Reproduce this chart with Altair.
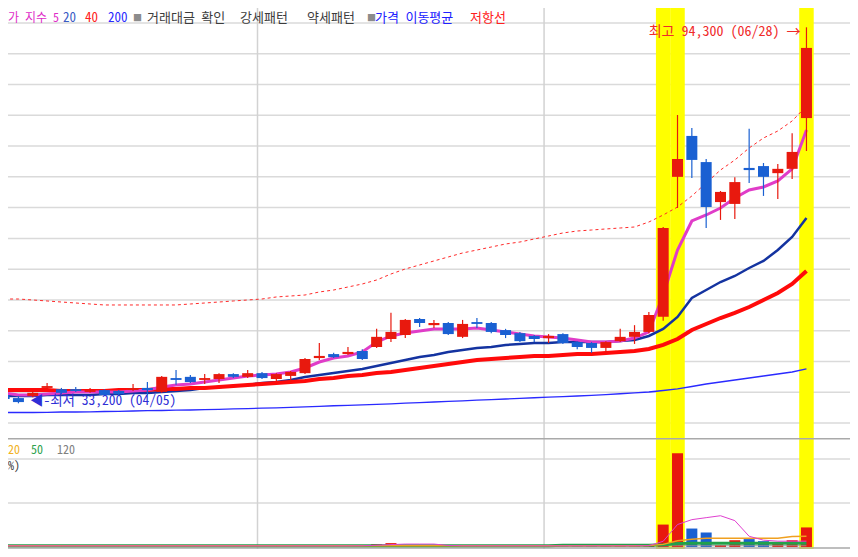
import altair as alt
import pandas as pd

# ---------------- data (index 0 = 04/04 ... 56 = 06/28) ----------------
opens = [34550, 34050, 34400, 35700, 35500, 35500, 35050, 35350, 35200, 35350,
         35700, 35050, 37300, 37500, 37000, 37150, 37950, 37500, 38100, 37150,
         37650, 38100, 40550, 41200, 41200, 41700, 42350, 43650, 44300, 46900,
         45900, 46250, 44000, 46400, 46250, 45100, 44600, 44150, 43800, 44450,
         43150, 43000, 42200, 43300, 44000, 44800, 47250, 70000, 76650, 72400,
         65900, 65600, 71450, 71750, 70600, 71300, 79550]
highs = [34900, 34400, 35200, 36500, 35700, 35850, 35700, 35500, 35350, 36350,
         36650, 37650, 38600, 37800, 37950, 38100, 38100, 38600, 38300, 38100,
         38450, 40550, 43000, 41400, 42350, 42000, 45300, 47900, 46900, 47050,
         46750, 46400, 46750, 47050, 46400, 45300, 44800, 44300, 44450, 44600,
         43300, 43150, 43300, 45300, 45900, 48050, 61850, 80050, 77950, 72900,
         67700, 69950, 77800, 72250, 72100, 77100, 94300]
lows = [33600, 33200, 34200, 35350, 34700, 35050, 34900, 34400, 34400, 35200,
        34550, 34900, 36200, 36500, 36350, 36500, 37300, 37300, 37150, 36800,
        36650, 37950, 40250, 40550, 41050, 40250, 42200, 43150, 43800, 45600,
        45450, 44300, 43800, 45450, 44600, 43800, 43150, 43150, 43000, 42850,
        42000, 41400, 41400, 43150, 42850, 44600, 46600, 64950, 69800, 61700,
        63000, 63150, 69000, 66900, 66400, 69650, 74200]
closes = [33900, 33400, 34900, 36000, 34900, 35200, 35350, 34550, 34700, 35700,
          35350, 37500, 37000, 36650, 37300, 37950, 37500, 38100, 37300, 37950,
          38300, 40400, 40900, 40700, 41550, 40400, 44000, 44800, 46750, 46250,
          46250, 44450, 46100, 46100, 44800, 44300, 43300, 43650, 44150, 43000,
          42350, 42200, 43150, 44000, 44800, 47550, 61700, 72900, 72750, 65100,
          67550, 69150, 71100, 70000, 71300, 74050, 90950]
ma5 = [34880, 34550, 34550, 34710, 34880, 35040, 35040, 35040, 35040, 35200,
       35360, 35850, 36180, 36340, 36660, 36990, 37310, 37640, 37800, 37960,
       38290, 38940, 39910, 40560, 40890, 41540, 43160, 44140, 44630, 44950,
       45280, 45280, 45280, 45440, 45110, 44790, 44460, 44140, 43980, 43810,
       43490, 43160, 43160, 43330, 43810, 44790, 50800, 58110, 62830, 63800,
       64940, 66560, 67860, 68350, 69330, 71280, 77610]
ma20 = [34390, 34390, 34390, 34550, 34550, 34550, 34550, 34710, 34710, 34880,
        34880, 35040, 35200, 35360, 35690, 35850, 36010, 36180, 36500, 36660,
        36990, 37480, 37800, 38130, 38450, 38780, 39260, 39750, 40240, 40730,
        41050, 41540, 41860, 42190, 42350, 42680, 42840, 43000, 43000, 43160,
        43160, 43160, 43160, 43330, 43490, 44140, 45280, 47230, 50310, 51610,
        52910, 53890, 55190, 56330, 58110, 60230, 63310]
ma40 = [35360, 35360, 35360, 35360, 35200, 35200, 35200, 35200, 35360, 35360,
        35360, 35530, 35530, 35690, 35690, 35850, 36010, 36180, 36340, 36500,
        36660, 36830, 37150, 37310, 37640, 37800, 38130, 38290, 38610, 38940,
        39260, 39590, 39910, 40240, 40400, 40560, 40730, 40890, 40890, 41050,
        41210, 41210, 41380, 41540, 41700, 42030, 42680, 43650, 45110, 46090,
        47060, 47880, 48850, 49990, 51130, 52590, 54700]
ma200 = [31710, 31710, 31710, 31740, 31790, 31790, 31820, 31870, 31900, 31950,
         32000, 32030, 32080, 32110, 32180, 32230, 32280, 32340, 32410, 32470,
         32550, 32630, 32710, 32800, 32880, 32960, 33040, 33120, 33220, 33320,
         33410, 33510, 33610, 33710, 33800, 33900, 34000, 34100, 34190, 34290,
         34390, 34500, 34620, 34750, 34880, 35040, 35280, 35530, 35930, 36340,
         36660, 36990, 37310, 37640, 37960, 38290, 38780]
resistance = [50150, 50150, 49990, 49830, 49660, 49500, 49340, 49180, 49180, 49180,
              49180, 49180, 49180, 49340, 49500, 49660, 49830, 49990, 50150, 50480,
              50640, 50800, 51290, 51610, 52100, 52590, 53240, 54210, 55030, 55680,
              56330, 56980, 57630, 58110, 58600, 59090, 59410, 59900, 60390, 60880,
              61200, 61360, 61530, 61690, 61850, 62660, 63800, 65100, 66890, 69000,
              71110, 72740, 74690, 76310, 77450, 79080, 81510]
trade_value = [25, 30, 20, 30, 25, 20, 20, 25, 20, 25,
               30, 45, 30, 25, 20, 25, 20, 25, 20, 20,
               25, 40, 35, 25, 20, 30, 67, 89, 40, 30,
               25, 35, 25, 30, 25, 20, 25, 20, 25, 20,
               20, 25, 20, 25, 30, 45, 510, 2130, 420, 330,
               45, 155, 180, 133, 90, 155, 445]
tv_ma5 = [25, 25, 25, 25, 25, 25, 25, 25, 25, 25,
          25, 25, 25, 25, 25, 25, 25, 25, 25, 25,
          25, 25, 25, 25, 25, 28, 40, 55, 67, 67,
          67, 35, 27, 27, 27, 27, 27, 27, 27, 27,
          27, 27, 27, 27, 27, 30, 130, 511, 622, 667,
          711, 600, 244, 156, 133, 133, 133]
tv_ma20 = [30] * 45 + [32, 60, 140, 175, 200, 200, 200, 200, 200, 200, 240, 245]
tv_ma50 = [30] * 39 + [40, 40, 40, 40, 40, 40, 40, 50, 80, 85, 85, 85, 85, 85, 85, 85, 85, 85]
tv_ma120 = [28] * 57
highlight_idx = [46, 47, 56]
month_start_idx = [18, 38]
price_grid = [30000, 35000, 40000, 45000, 50000, 55000, 60000,
              65000, 70000, 75000, 80000, 85000, 90000, 95000]
value_grid = [1000, 2000]

n = len(opens)
df = pd.DataFrame({
    "i": list(range(n)), "open": opens, "high": highs, "low": lows, "close": closes,
    "ma5": ma5, "ma20": ma20, "ma40": ma40, "ma200": ma200, "res": resistance,
    "tv": trade_value, "v5": tv_ma5, "v20": tv_ma20, "v50": tv_ma50, "v120": tv_ma120,
})
df["dir"] = ["up" if c >= o else "down" for o, c in zip(opens, closes)]

RED = "#e8190e"
BLUE = "#1a60d2"
FONT = "Noto Sans Mono CJK KR, DejaVu Sans Mono, Noto Sans CJK KR"
W, TOP_H, BOT_H = 842, 430, 111

xs = alt.Scale(domain=[0.6207, 58.6897], nice=False, zero=False)
ys = alt.Scale(domain=[27562.5, 97437.5], nice=False, zero=False)
vs = alt.Scale(domain=[-45, 2477], nice=False, zero=False)
X = alt.X("i:Q", scale=xs, axis=None)
col = alt.Color("dir:N", scale=alt.Scale(domain=["up", "down"], range=[RED, BLUE]), legend=None)

grid_df = pd.DataFrame({"p": price_grid})
vgrid_df = pd.DataFrame({"v": value_grid})
month_df = pd.DataFrame({"i": month_start_idx})
hl_df = pd.DataFrame({"i": highlight_idx})


def pline(field, color, width, dash=None, scale=ys):
    kw = dict(color=color, strokeWidth=width, clip=True)
    if dash:
        kw["strokeDash"] = dash
    return alt.Chart(df).mark_line(**kw).encode(
        x=X, y=alt.Y(f"{field}:Q", scale=scale, axis=None))


# ---------------- top panel ----------------
grid = alt.Chart(grid_df).mark_rule(color="#dadada", strokeWidth=1.5, clip=True).encode(
    y=alt.Y("p:Q", scale=ys, axis=None))
months = alt.Chart(month_df).mark_rule(color="#d2d2d2", strokeWidth=1.5, xOffset=-4.5,
                                       clip=True).encode(x=X)
hl = alt.Chart(hl_df).mark_rule(color="#ffff00", strokeWidth=14.5, clip=True).encode(x=X)

wick = alt.Chart(df).mark_rule(strokeWidth=1.2, clip=True).encode(
    x=X, y=alt.Y("low:Q", scale=ys, axis=None), y2="high:Q", color=col)
body = alt.Chart(df).mark_bar(size=11, clip=True).encode(
    x=X, y=alt.Y("open:Q", scale=ys, axis=None), y2="close:Q", color=col)

hi_df = pd.DataFrame({"i": [56], "p": [94300], "t": ["최고 94,300 (06/28) →"]})
lo_df = pd.DataFrame({"i": [1], "p": [33200], "t": ["◀-최저 33,200 (04/05)"]})
hi_txt = alt.Chart(hi_df).mark_text(align="right", baseline="middle", dx=-6, dy=5,
                                    color="#f02a2a", fontSize=14, font=FONT).encode(
    x=X, y=alt.Y("p:Q", scale=ys, axis=None), text="t:N")
lo_txt = alt.Chart(lo_df).mark_text(align="left", baseline="middle", dx=11.5, dy=-2,
                                    color="#2f2fd6", fontSize=13.5, font=FONT).encode(
    x=X, y=alt.Y("p:Q", scale=ys, axis=None), text="t:N")

header = [
    ("가 지수 5", "#e02cc8", 0, 12), ("20", "#3a5cc4", 55, 13), ("40", "#ff2020", 77, 13),
    ("200", "#2a2aff", 100, 13), ("■", "#8c8c8c", 125, 9), ("거래대금 확인", "#3c3c3c", 139, 13),
    ("강세패턴", "#3c3c3c", 232, 13), ("약세패턴", "#3c3c3c", 299, 13),
    ("■", "#8c8c8c", 359, 9), ("가격 이동평균", "#2020ff", 367, 13), ("저항선", "#ff2020", 462, 13),
]
head_layers = [
    alt.Chart(pd.DataFrame({"t": [t]})).mark_text(
        align="left", baseline="middle", color=c, fontSize=fs, font=FONT
    ).encode(x=alt.value(x), y=alt.value(10), text="t:N")
    for t, c, x, fs in header
]

top = alt.layer(
    grid, months, hl,
    pline("res", "#ff2a2a", 1, dash=[3, 3]),
    pline("ma200", "#2a2aff", 1.3),
    pline("ma20", "#1433a0", 2.5),
    pline("ma40", "#ff0a0a", 4),
    pline("ma5", "#e03cc8", 3),
    wick, body, hi_txt, lo_txt, *head_layers,
).properties(width=W, height=TOP_H)

# ---------------- bottom panel ----------------
vgrid = alt.Chart(vgrid_df).mark_rule(color="#dadada", strokeWidth=1.5, clip=True).encode(
    y=alt.Y("v:Q", scale=vs, axis=None))
divider = alt.Chart(pd.DataFrame({"v": [2465]})).mark_rule(color="#a9a9a9", strokeWidth=2,
                                                           clip=True).encode(
    y=alt.Y("v:Q", scale=vs, axis=None))
baseline = alt.Chart(pd.DataFrame({"v": [-25]})).mark_rule(color="#a8a8a8", strokeWidth=1.5,
                                                           clip=True).encode(
    y=alt.Y("v:Q", scale=vs, axis=None))
bars = alt.Chart(df).mark_bar(size=11, clip=True).encode(
    x=X, y=alt.Y("tv:Q", scale=vs, axis=None), color=col)

bot_legend = [("20", "#f2b224", 0, 12), ("50", "#2ea24e", 23, 12), ("120", "#808080", 49, 12),
              ("%)", "#404040", 0, 28)]
bot_text = [
    alt.Chart(pd.DataFrame({"t": [t]})).mark_text(
        align="left", baseline="middle", color=c, fontSize=12, font=FONT
    ).encode(x=alt.value(x), y=alt.value(y), text="t:N")
    for t, c, x, y in bot_legend
]

bottom = alt.layer(
    vgrid, months, hl, baseline, divider, bars,
    pline("v120", "#909090", 1, scale=vs),
    pline("v50", "#22a04a", 3, scale=vs),
    pline("v20", "#f0a020", 1.5, scale=vs),
    pline("v5", "#e040d0", 1, scale=vs),
    *bot_text,
).properties(width=W, height=BOT_H)

chart = alt.vconcat(top, bottom, spacing=0).properties(
    padding=0, background="white"
).configure_view(stroke=None)

chart.save("out.html", embed_options={"renderer": "svg", "actions": False})
